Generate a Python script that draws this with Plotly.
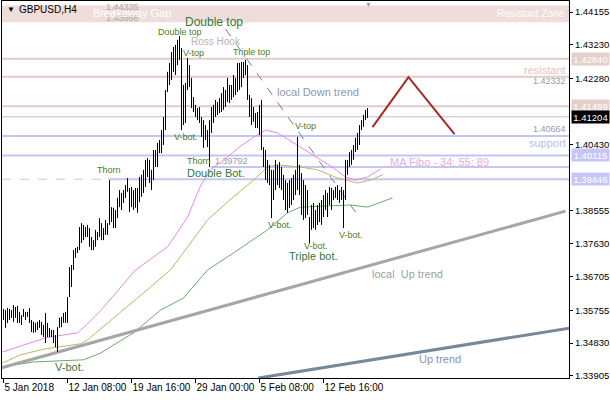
import plotly.graph_objects as go

# ---------------- data ----------------
x_tick_idx = [0, 32, 64, 96, 128, 160]
x_tick_text = ["5 Jan 2018", "12 Jan 08:00", "19 Jan 16:00", "29 Jan 00:00", "5 Feb 08:00", "12 Feb 16:00"]
y_tick_vals = [1.44155, 1.43230, 1.42280, 1.40430, 1.38555, 1.37630, 1.36705, 1.35755, 1.34830, 1.33905]

bar_high = [
    1.3579, 1.3576, 1.3582, 1.3579, 1.3576, 1.3590, 1.3585, 1.3588, 1.3571, 1.3562,
    1.3579, 1.3571, 1.3571, 1.3582, 1.3548, 1.3543, 1.3540, 1.3543, 1.3548, 1.3543,
    1.3534, 1.3568, 1.3540, 1.3526, 1.3520, 1.3520, 1.3506, 1.3528, 1.3554, 1.3557,
    1.3568, 1.3571, 1.3613, 1.3697, 1.3703, 1.3745, 1.3751, 1.3754, 1.3810, 1.3821,
    1.3816, 1.3810, 1.3816, 1.3807, 1.3782, 1.3773, 1.3802, 1.3796, 1.3835, 1.3821,
    1.3807, 1.3830, 1.3821, 1.3942, 1.3866, 1.3864, 1.3858, 1.3892, 1.3914, 1.3906,
    1.3914, 1.3928, 1.3948, 1.3920, 1.3923, 1.3914, 1.3920, 1.3920, 1.3951, 1.3957,
    1.3971, 1.3999, 1.4004, 1.3999, 1.3971, 1.4027, 1.4027, 1.4047, 1.4055, 1.4083,
    1.4120, 1.4196, 1.4247, 1.4272, 1.4303, 1.4317, 1.4323, 1.4337, 1.4348, 1.4314,
    1.4210, 1.4216, 1.4286, 1.4266, 1.4230, 1.4176, 1.4154, 1.4145, 1.4148, 1.4120,
    1.4111, 1.4097, 1.4083, 1.4111, 1.4148, 1.4154, 1.4168, 1.4162, 1.4173, 1.4187,
    1.4204, 1.4196, 1.4230, 1.4210, 1.4210, 1.4238, 1.4230, 1.4272, 1.4272, 1.4275,
    1.4275, 1.4280, 1.4266, 1.4182, 1.4173, 1.4148, 1.4131, 1.4134, 1.4154, 1.4168,
    1.4035, 1.4027, 1.3999, 1.3985, 1.3971, 1.3971, 1.3999, 1.3985, 1.3993, 1.3979,
    1.3957, 1.3942, 1.3934, 1.3942, 1.3948, 1.3957, 1.3971, 1.4064, 1.3985, 1.3962,
    1.3942, 1.3928, 1.3914, 1.3838, 1.3872, 1.3878, 1.3858, 1.3872, 1.3878, 1.3886,
    1.3900, 1.3914, 1.3906, 1.3923, 1.3920, 1.3914, 1.3923, 1.3928, 1.3914, 1.3923,
    1.3914, 1.3999, 1.3999, 1.4021, 1.4027, 1.4041, 1.4061, 1.4075, 1.4097, 1.4111,
    1.4126, 1.4140, 1.4145,
]
bar_low = [
    1.3548, 1.3526, 1.3540, 1.3548, 1.3554, 1.3543, 1.3554, 1.3540, 1.3540, 1.3534,
    1.3557, 1.3548, 1.3557, 1.3540, 1.3514, 1.3512, 1.3514, 1.3520, 1.3526, 1.3506,
    1.3500, 1.3483, 1.3500, 1.3500, 1.3500, 1.3483, 1.3472, 1.3458, 1.3526, 1.3528,
    1.3540, 1.3540, 1.3540, 1.3613, 1.3641, 1.3689, 1.3723, 1.3737, 1.3745, 1.3765,
    1.3773, 1.3782, 1.3782, 1.3754, 1.3745, 1.3745, 1.3754, 1.3773, 1.3782, 1.3773,
    1.3773, 1.3788, 1.3788, 1.3816, 1.3824, 1.3807, 1.3807, 1.3835, 1.3866, 1.3858,
    1.3878, 1.3892, 1.3909, 1.3852, 1.3866, 1.3858, 1.3864, 1.3850, 1.3880, 1.3895,
    1.3906, 1.3923, 1.3951, 1.3934, 1.3914, 1.3942, 1.3979, 1.3979, 1.4018, 1.4018,
    1.4041, 1.4083, 1.4190, 1.4210, 1.4224, 1.4247, 1.4238, 1.4266, 1.4280, 1.4083,
    1.4097, 1.4103, 1.4196, 1.4204, 1.4145, 1.4134, 1.4120, 1.4111, 1.4103, 1.4064,
    1.4033, 1.4055, 1.4035, 1.3979, 1.4075, 1.4103, 1.4120, 1.4125, 1.4131, 1.4134,
    1.4140, 1.4148, 1.4162, 1.4159, 1.4168, 1.4176, 1.4182, 1.4190, 1.4196, 1.4204,
    1.4230, 1.4238, 1.4168, 1.4120, 1.4097, 1.4106, 1.4089, 1.4089, 1.4069, 1.4027,
    1.3979, 1.3942, 1.3934, 1.3928, 1.3835, 1.3886, 1.3914, 1.3928, 1.3920, 1.3914,
    1.3886, 1.3858, 1.3850, 1.3864, 1.3872, 1.3886, 1.3900, 1.3914, 1.3900, 1.3844,
    1.3830, 1.3835, 1.3844, 1.3765, 1.3802, 1.3807, 1.3802, 1.3816, 1.3824, 1.3816,
    1.3838, 1.3858, 1.3838, 1.3872, 1.3858, 1.3886, 1.3892, 1.3886, 1.3878, 1.3886,
    1.3807, 1.3886, 1.3957, 1.3979, 1.3985, 1.3999, 1.4021, 1.4027, 1.4041, 1.4083,
    1.4092, 1.4111, 1.4117,
]

# moving averages (vertices: bar index, price)
ma34_x = [-0.5, 8.5, 21, 37, 42, 48.5, 58.5, 66, 82, 92, 98.5, 103.5, 112, 118.5, 126, 131, 137, 146, 153.5, 163.5, 171, 176, 182, 188.5]
ma34_y = [1.3458, 1.3475, 1.3498, 1.3512, 1.3537, 1.3574, 1.3638, 1.3689, 1.3754, 1.3838, 1.3926, 1.3971, 1.4007, 1.4038, 1.4066, 1.4083, 1.4075, 1.4044, 1.4018, 1.3982, 1.3951, 1.3942, 1.3951, 1.3973]
ma55_x = [-0.5, 8.5, 20, 38.5, 42, 62, 73.5, 83.5, 92, 102, 115, 125, 132, 137, 148.5, 157, 167, 177, 183.5, 189.5]
ma55_y = [1.3427, 1.3450, 1.3466, 1.3481, 1.3492, 1.3585, 1.3641, 1.3689, 1.3754, 1.3830, 1.3895, 1.3942, 1.3979, 1.3985, 1.3979, 1.3971, 1.3948, 1.3934, 1.3942, 1.3957]
ma89_x = [-0.5, 15, 40, 48.5, 65, 78.5, 90, 102, 115, 132, 142, 148.5, 173.5, 182, 194.5]
ma89_y = [1.3416, 1.3430, 1.3436, 1.3455, 1.3512, 1.3576, 1.3610, 1.3689, 1.3737, 1.3802, 1.3850, 1.3866, 1.3872, 1.3866, 1.3892]

# trend lines (bar index, price)
down_trend_x = [111, 176]
down_trend_y = [1.43676, 1.38520]
local_up_x = [-1.5, 281]
local_up_y = [1.34127, 1.38548]
up_trend_x = [127.5, 283]
up_trend_y = [1.33846, 1.35254]
forecast_x = [184.5, 202.5, 225.5]
forecast_y = [1.40914, 1.42322, 1.40717]

# price levels
zone_low, zone_high = 1.43868, 1.44335
resist_levels = [1.42840, 1.42332, 1.41499]
support_levels = [1.40664, 1.40115]
thorn_level = 1.39792
thorn_start = 103.5
base_level = 1.39446
base_start = 52.5
last_price = 1.41204

label_levels = [1.42840, 1.41499, 1.41204, 1.40115, 1.39446]
label_kinds = ["res", "res", "last", "sup", "sup"]

# ---------------- figure ----------------
FONT = "Liberation Sans, Arial, sans-serif"
W, H = 610, 400
L, R, T, B = 2, 41, 1, 22
X0, X1 = -0.75, 282.75
Y0, Y1 = 1.33848, 1.44465

fig = go.Figure()

# bars as high-low vertical strokes
bx, by = [], []
for i, (h, l) in enumerate(zip(bar_high, bar_low)):
    bx += [i, i, None]
    by += [l, h, None]

fig.add_trace(go.Scatter(x=ma89_x, y=ma89_y, mode="lines", line=dict(color="#6DAA6D", width=1), hoverinfo="skip"))
fig.add_trace(go.Scatter(x=ma55_x, y=ma55_y, mode="lines", line=dict(color="#C2B467", width=1), hoverinfo="skip"))
fig.add_trace(go.Scatter(x=ma34_x, y=ma34_y, mode="lines", line=dict(color="#E68AE6", width=1), hoverinfo="skip"))
fig.add_trace(go.Scatter(x=local_up_x, y=local_up_y, mode="lines", line=dict(color="#A6A6A6", width=3), hoverinfo="skip"))
fig.add_trace(go.Scatter(x=up_trend_x, y=up_trend_y, mode="lines", line=dict(color="#778899", width=3), hoverinfo="skip"))
fig.add_trace(go.Scatter(x=down_trend_x, y=down_trend_y, mode="lines", line=dict(color="#708090", width=1, dash="dash"), hoverinfo="skip"))
fig.add_trace(go.Scatter(x=bx, y=by, mode="lines", line=dict(color="black", width=1), hoverinfo="skip", connectgaps=False))
fig.add_trace(go.Scatter(x=forecast_x, y=forecast_y, mode="lines", line=dict(color="#A52A2A", width=2), hoverinfo="skip"))

shapes = []
shapes.append(dict(type="rect", xref="paper", yref="y", x0=0, x1=1, y0=zone_low, y1=zone_high,
                   fillcolor="#EEDDDA", line=dict(width=0), layer="below"))
for lv in resist_levels:
    shapes.append(dict(type="line", xref="paper", yref="y", x0=0, x1=1, y0=lv, y1=lv,
                       line=dict(color="#E2CBC6", width=2), layer="below"))
for lv in support_levels:
    shapes.append(dict(type="line", xref="paper", yref="y", x0=0, x1=1, y0=lv, y1=lv,
                       line=dict(color="#C4C4F6", width=2), layer="below"))
shapes.append(dict(type="line", xref="x", yref="y", x0=thorn_start, x1=X1, y0=thorn_level, y1=thorn_level,
                   line=dict(color="#C4C4F6", width=2), layer="below"))
shapes.append(dict(type="line", xref="x", yref="y", x0=base_start, x1=X1, y0=base_level, y1=base_level,
                   line=dict(color="#C4C4F6", width=2), layer="below"))
shapes.append(dict(type="line", xref="x", yref="y", x0=X0, x1=base_start, y0=base_level, y1=base_level,
                   line=dict(color="#C4C4F6", width=1, dash="dash"), layer="below"))
shapes.append(dict(type="line", xref="paper", yref="y", x0=0, x1=1, y0=last_price, y1=last_price,
                   line=dict(color="#C0C0C0", width=1), layer="below"))

PW = W - L - R
PH = H - T - B


def px(xp):
    return (xp - L) / PW


def py(yp):
    return (H - B - yp) / PH


annotations = []


def txt(s, x, y, color, size, anchor="left", family=FONT):
    annotations.append(dict(text=s, xref="paper", yref="paper", x=px(x), y=py(y), xanchor=anchor,
                            yanchor="middle", showarrow=False, font=dict(color=color, size=size, family=family)))


SMALL = "#4E7A1E"
BIG = "#2F7A3A"

txt("▼", 5, 9, "black", 8)
txt("GBPUSD,H4", 17, 9, "black", 10)
txt("1.44335", 104, 7, "#A8A8A8", 9)
txt("1.43868", 104, 18, "#A8A8A8", 9)
txt("Breakaway Gap", 91, 13, "white", 11)
txt("Resistant Zone", 567, 13, "white", 10, anchor="right")
txt("▼", 368, 4, "#A0A0A0", 7, anchor="center")
txt("Double top", 183, 22, BIG, 12)
txt("Double top", 156, 32, SMALL, 9)
txt("Ross Hook", 189, 42, "#B4B4B4", 10)
txt("V-top", 181, 53, SMALL, 9)
txt("Triple top", 231, 52, SMALL, 9)
txt("local Down trend", 275, 92, "#8A9AB5", 11)
txt("resistant", 568, 70, "#E2C4C0", 11, anchor="right")
txt("1.42332", 568, 81, "#9A9AAA", 9, anchor="right")
txt("1.40664", 568, 129, "#9A9AAA", 9, anchor="right")
txt("support", 568, 143, "#BDBDF2", 11, anchor="right")
txt("V-top", 293, 126, SMALL, 9)
txt("V-bot.", 172, 137, SMALL, 9)
txt("Thorn", 185, 161, SMALL, 9)
txt("1.39792", 213, 161, "#9A9AAA", 9)
txt("Double Bot.", 185, 173, BIG, 11)
txt("Thorn", 95, 170, SMALL, 9)
txt("MA Fibo - 34; 55; 89", 388, 162, "#E8AAE8", 11)
txt("V-bot.", 266, 225, SMALL, 9)
txt("V-bot.", 302, 246, SMALL, 9)
txt("V-bot.", 337, 235, SMALL, 9)
txt("Triple bot.", 287, 256, BIG, 11)
txt("local  Up trend", 370, 274, "#A0A0A0", 11)
txt("Up trend", 417, 359, "#8A93A8", 11)
txt("V-bot.", 53, 367, BIG, 11)

# right-side price labels
for lv, kind in zip(label_levels, label_kinds):
    bg = {"res": "#E6CFCB", "last": "black", "sup": "#C6C6F6"}[kind]
    annotations.append(dict(text=f"{lv:.5f}", xref="paper", yref="y", x=1, y=lv, xanchor="left", yanchor="middle",
                            xshift=2, showarrow=False, bgcolor=bg, width=37, height=12, borderpad=0,
                            font=dict(color="white", size=9.5, family=FONT)))

fig.update_layout(
    width=W, height=H, margin=dict(l=L, r=R, t=T, b=B, autoexpand=False),
    paper_bgcolor="white", plot_bgcolor="white", showlegend=False,
    shapes=shapes, annotations=annotations,
    xaxis=dict(range=[X0, X1], showgrid=False, zeroline=False, showline=True, linecolor="black", linewidth=1,
               mirror=True, ticks="outside", ticklen=4, tickcolor="black", tickvals=x_tick_idx,
               ticktext=x_tick_text, ticklabelposition="outside right", tickangle=0, automargin=False,
               tickfont=dict(family=FONT, size=10, color="black")),
    yaxis=dict(range=[Y0, Y1], side="right", showgrid=False, zeroline=False, showline=True, linecolor="black",
               linewidth=1, mirror=True, ticks="outside", ticklen=3, tickcolor="black", tickvals=y_tick_vals,
               ticktext=[f"{v:.5f}" for v in y_tick_vals], automargin=False,
               tickfont=dict(family=FONT, size=9.5, color="black")),
)

fig.write_html("out.html", config={"displayModeBar": False, "staticPlot": True},
               post_script="document.body.style.margin='0';document.body.style.overflow='hidden';")
